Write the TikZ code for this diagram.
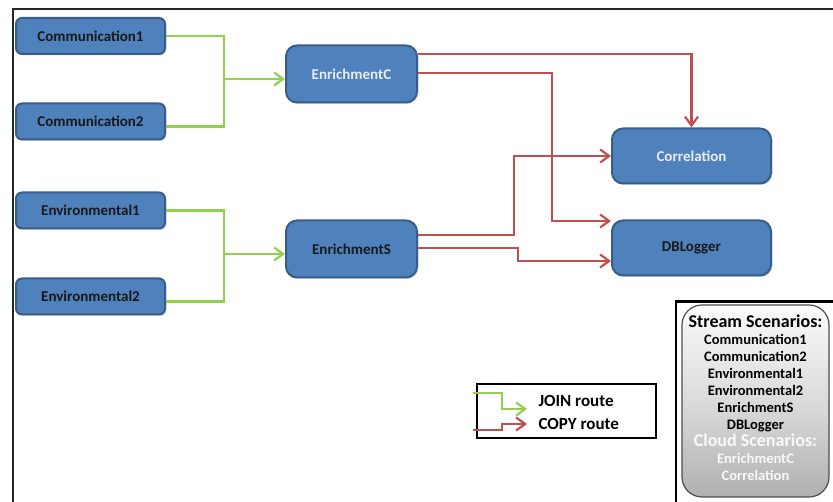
\documentclass[tikz,border=0pt]{standalone}
\usepackage{fontspec}
\setmainfont{Carlito}
\usetikzlibrary{positioning, arrows.meta, shadows}
\definecolor{boxblue}{HTML}{4F81BD}
\definecolor{boxline}{HTML}{385D8A}
\definecolor{joingreen}{HTML}{92D050}
\definecolor{copyred}{HTML}{C0504D}
\tikzset{
>={Straight Barb[length=9pt,width=13pt]}, % open arrow heads
stream/.style={rounded corners=6pt, fill=boxblue, draw=boxline, line width=2pt,
  minimum width=149pt, minimum height=36pt, text=black!90,
  font=\fontsize{15}{16}\selectfont\bfseries,
  drop shadow={opacity=0.25, shadow xshift=1.5pt, shadow yshift=-1.5pt}}, % blue boxes
stage/.style={stream, rounded corners=11pt, minimum width=131pt, minimum height=57pt},
sinkbox/.style={stage, minimum width=159pt, minimum height=55pt},
cloud/.style={text=white!92!blue}, % cloud scenarios have light text
joinroute/.style={draw=joingreen, line width=2.2pt}, % JOIN route
copyroute/.style={draw=copyred, line width=2.2pt}, % COPY route
}

\begin{document}
\begin{tikzpicture}[x=1pt, y=1pt]
  \useasboundingbox (0,0) rectangle (833,502);

  % Frame
  \draw[line width=2pt, black!85] (833,492.5) -- (13,492.5) -- (13,-2);

  % Sources
  \node[stream] (com1) at (90.5,466) {Communication1};
  \node[stream, below of=com1, node distance=85.5pt] (com2) {Communication2};
  \node[stream, below of=com2, node distance=89pt] (env1) {Environmental1};
  \node[stream, below of=env1, node distance=86pt] (env2) {Environmental2};

  % Enrichment
  \node[stage, cloud] (enrC) at (351.5,428) {EnrichmentC};
  \node[stage, below of=enrC, node distance=175pt] (enrS) {EnrichmentS};

  % Sinks
  \node[sinkbox, cloud] (corr) at (691.5,346) {Correlation};
  \node[sinkbox, below of=corr, node distance=92pt] (dbl) {DBLogger};

  % Join routes
  \coordinate (inC) at ([yshift=-5pt]enrC.west);
  \coordinate (inS) at ([yshift=-5pt]enrS.west);
  \draw[joinroute] (com1.east) -- ++(58,0) coordinate (jc) |- ([yshift=-5pt]com2.east);
  \draw[joinroute, ->] (jc |- inC) -- (inC);
  \draw[joinroute] (env1.east) -- ++(58,0) coordinate (js) |- ([yshift=-5pt]env2.east);
  \draw[joinroute, ->] (js |- inS) -- (inS);

  % Copy routes
  \draw[copyroute, ->] ([yshift=20pt]enrC.east) -| (corr.north);
  \draw[copyroute, ->] ([yshift=1pt]enrC.east) -- ++(134,0) |- ([yshift=27pt]dbl.west);
  \draw[copyroute, ->] ([yshift=14pt]enrS.east) -- ++(96,0) |- (corr.west);
  \draw[copyroute, ->] ([yshift=1pt]enrS.east) -- ++(100,0) |- ([yshift=-13pt]dbl.west);

  % Legend
  \node[draw, line width=2.2pt, minimum width=179pt, minimum height=54pt] (legend) at (566.5,91) {};
  \coordinate (gs) at (473,109);
  \coordinate (ge) at (527,93);
  \coordinate (rs) at (473,72);
  \coordinate (re) at (527,78);
  \draw[joinroute, ->] (gs) -- ++(29,0) |- (ge);
  \draw[copyroute, ->] (rs) -- ++(29,0) |- (re);
  \node[anchor=west, font=\fontsize{17}{18}\selectfont\bfseries] (joinlbl) at (535,101) {JOIN route};
  \node[anchor=west, font=\fontsize{17}{18}\selectfont\bfseries] (copylbl) at (535,78) {COPY route};

  % Scenarios
  \draw[line width=2.5pt] (676,-5) rectangle (840,200.5);
  \node[rounded corners=20pt, draw=black!70, line width=1.2pt,
    top color=gray!4, bottom color=gray!62, middle color=gray!28,
    minimum width=147pt, minimum height=192pt] (scen) at (755.5,101) {};
  \node[align=center, font=\fontsize{14.5}{17}\selectfont\bfseries] (scentxt) at ([yshift=3pt]scen.center)
    {{\fontsize{18}{17}\selectfont Stream Scenarios:}\\
     Communication1\\ Communication2\\ Environmental1\\ Environmental2\\
     EnrichmentS\\ DBLogger\\
     {\color{white!95!gray}\fontsize{18}{17}\selectfont Cloud Scenarios:}\\
     {\color{white!95!gray}EnrichmentC}\\ {\color{white!95!gray}Correlation}};
\end{tikzpicture}
\end{document}
